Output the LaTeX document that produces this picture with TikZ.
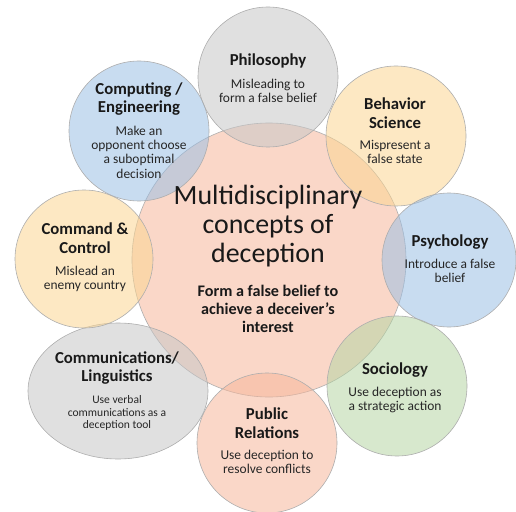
\documentclass[tikz,border=0pt]{standalone}
\usepackage{fontspec}
\setmainfont{Carlito}
\usetikzlibrary{shapes.geometric}

\definecolor{cPink}{RGB}{246,182,155}
\definecolor{cGray}{RGB}{199,199,199}
\definecolor{cBlue}{RGB}{155,191,228}
\definecolor{cYellow}{RGB}{251,213,146}
\definecolor{cGreen}{RGB}{182,213,164}

\begin{document}
\begin{tikzpicture}[x=1bp,y=-1bp,
  bubble/.style={ellipse,draw=black!32,line width=0.6pt,fill opacity=0.55,inner sep=0pt,outer sep=0pt},
  ttl/.style={align=center,font=\fontsize{16.8}{18.5}\selectfont\bfseries,text=black!90},
  dsc/.style={align=center,text=black!85}]

\useasboundingbox (0,0) rectangle (516,512);

%% the central concept
\node[bubble,fill=cPink,minimum width=274bp,minimum height=274bp] (core) at (269,260) {};

%% the disciplines round it
\def\fields{
 philo/268/77/70/70/cGray,
 behav/396/136/70/70/cYellow,
 psych/449/260/67/67/cBlue,
 socio/397/386/70/70/cGreen,
 pubrel/267/443/70/70/cPink,
 comms/118/391/90/68/cGray,
 cmdctl/84/259/69/69/cYellow,
 comput/139/131/70/70/cBlue}
\foreach \nm/\cx/\cy/\rx/\ry/\col in \fields
  \node[bubble,fill=\col,minimum width=\rx*2bp,minimum height=\ry*2bp] (\nm) at (\cx,\cy) {};

%% names and meanings
\foreach \nm/\tx/\ty/\dy/\fs/\ttl/\dsc in {
 philo/268/61/91/13.5/{Philosophy}/{Misleading to\\form a false belief},
 behav/395/113/152/13.5/{Behavior\\Science}/{Mispresent a\\false state},
 psych/450/242/271/13.5/{Psychology}/{Introduce a false\\belief},
 socio/395/370/400/13.5/{Sociology}/{Use deception as\\a strategic action},
 pubrel/267/423/462/13.5/{Public\\Relations}/{Use deception to\\resolve conflicts},
 comms/117/368/413/11.6/{Communications/\\Linguistics}/{Use verbal\\communications as a\\deception tool},
 cmdctl/85/238/279/13.5/{Command \&\\Control}/{Mislead an\\enemy country},
 comput/139/99/152/13.5/{Computing /\\Engineering}/{Make an\\opponent choose\\a suboptimal\\decision}}
{
  \node[ttl] (\nm-t) at (\tx,\ty) {\ttl};
  \pgfmathsetmacro\ls{\fs*1.07}
  \node[dsc,font=\fontsize{\fs}{\ls}\selectfont] (\nm-d) at (\tx,\dy) {\dsc};
}

\node[align=center,font=\fontsize{28}{29.5}\selectfont,text=black!90] (core-t) at (268,226)
  {Multidisciplinary\\concepts of\\deception};
\node[align=center,font=\fontsize{16.2}{18}\selectfont\bfseries,text=black!90] (core-d) at (268,309)
  {Form a false belief to\\achieve a deceiver’s\\interest};
\end{tikzpicture}
\end{document}
